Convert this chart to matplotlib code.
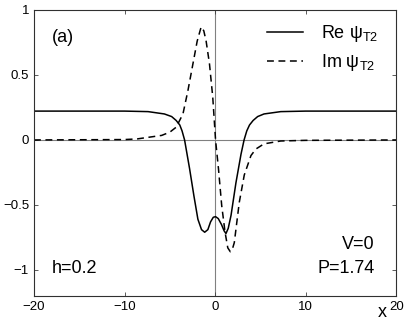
import numpy as np
import matplotlib
matplotlib.use("Agg")
import matplotlib.pyplot as plt

plt.rcParams['font.family'] = ['Liberation Sans', 'DejaVu Sans']
plt.rcParams['mathtext.fontset'] = 'custom'
plt.rcParams['mathtext.rm'] = 'Liberation Sans'

# values
x_re = [-20, -10, -7.4, -5.6, -4.8, -4.3, -3.9, -3.65, -3.37, -2.82, -2.34, -1.9, -1.5,
        -1.15, -0.8, -0.5, -0.2, 0.05, 0.35, 0.7, 1.0, 1.2, 1.45, 1.76, 2.3,
        2.86, 3.2, 3.5, 3.8, 4.2, 4.7, 5.4, 7.25, 10, 20]
re_psi = [0.222, 0.222, 0.218, 0.2, 0.18, 0.15, 0.115, 0.07, 0.0, -0.22, -0.43, -0.61, -0.69,
          -0.71, -0.69, -0.63, -0.595, -0.59, -0.605, -0.65, -0.70, -0.72, -0.68, -0.58, -0.33,
          -0.11, 0.0, 0.07, 0.115, 0.15, 0.18, 0.2, 0.218, 0.222, 0.222]

x_im = [-20, -10, -8.6, -7.4, -5.9, -5.0, -4.3, -3.55, -3.0, -2.45, -1.98, -1.54,
        -1.25, -0.99, -0.62, -0.26, 0.05, 0.37, 0.73, 1.1, 1.4, 1.68, 1.95, 2.12,
        2.67, 3.22, 3.96, 4.5, 5.4, 7.25, 10, 20]
im_psi = [0.0, 0.003, 0.008, 0.02, 0.035, 0.06, 0.098, 0.2, 0.38, 0.585, 0.76, 0.87,
          0.84, 0.76, 0.585, 0.33, 0.0, -0.22, -0.505, -0.71, -0.83, -0.86, -0.83, -0.79,
          -0.48, -0.27, -0.12, -0.07, -0.03, -0.008, -0.003, 0.0]

xticks = [-20, -10, 0, 10, 20]
yticks = [-1, -0.5, 0, 0.5, 1]
ytick_labels = ['\u22121', '\u22120.5', '0', '0.5', '1']
xtick_labels = ['\u221220', '\u221210', '0', '10', '20']

fig = plt.figure(figsize=(4.07, 3.22), dpi=100)
ax = fig.add_axes([0.0835, 0.081, 0.89, 0.888])

ax.axhline(0, color='#808080', lw=0.8, zorder=1)
ax.axvline(0, color='#808080', lw=0.8, zorder=1)
ax.plot(x_re, re_psi, color='black', lw=1.1, label='Re \u03c8$_{\\rm T2}$')
ax.plot(x_im, im_psi, color='black', lw=1.1, dashes=(4.5, 3),
        label='Im \u03c8$_{\\rm T2}$')

ax.set_xlim(-20, 20)
ax.set_ylim(-1.2, 1)
ax.set_xticks(xticks)
ax.set_xticklabels(xtick_labels)
ax.set_yticks(yticks)
ax.set_yticklabels(ytick_labels)
ax.tick_params(direction='in', top=True, right=True, labelsize=9.5, length=3,
               width=0.6, color='#404040')
for s in ax.spines.values():
    s.set_linewidth(0.8)
    s.set_color('#303030')

ax.text(0.049, 0.887, '(a)', transform=ax.transAxes, fontsize=13)
ax.text(0.049, 0.08, 'h=0.2', transform=ax.transAxes, fontsize=13)
ax.text(0.94, 0.165, 'V=0', transform=ax.transAxes, fontsize=13, ha='right')
ax.text(0.94, 0.08, 'P=1.74', transform=ax.transAxes, fontsize=13, ha='right')
ax.text(0.962, -0.03, 'x', transform=ax.transAxes, fontsize=13, ha='center', va='top')

ax.legend(loc='upper right', bbox_to_anchor=(0.95, 0.955), frameon=False,
          fontsize=13, handlelength=2.0, labelspacing=0.45, borderpad=0,
          borderaxespad=0, handletextpad=1.0)

fig.savefig('out.png', dpi=100)
